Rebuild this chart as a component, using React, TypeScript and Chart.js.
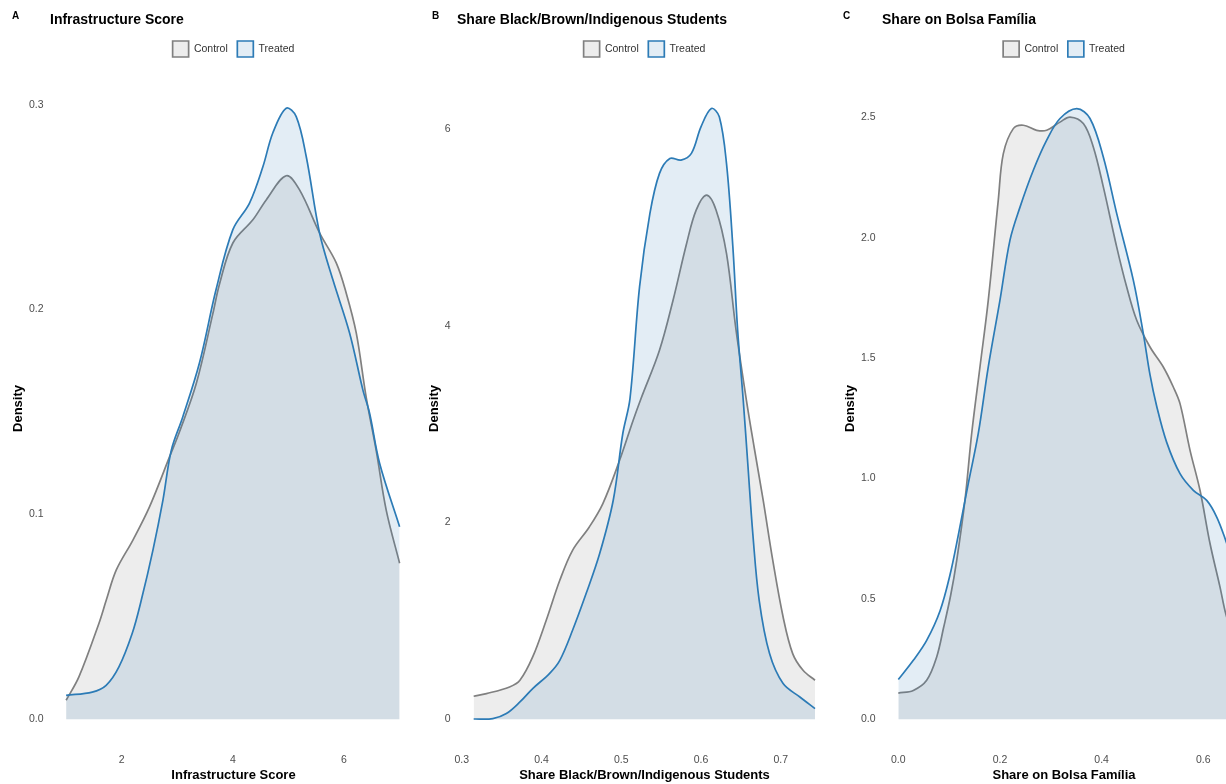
import React, { useEffect, useRef } from "react";
import { Chart, registerables } from "chart.js";

Chart.register(...registerables);

// ---------- Data ----------
const seriesNames = ["Control", "Treated"];

// Panel A: Infrastructure Score
const infraControlX = [1.0, 1.23, 1.59, 1.723, 1.903, 2.202, 2.502, 2.862, 3.042, 3.343, 3.64, 3.76, 4.0, 4.36, 4.6, 4.96, 5.2, 5.56, 5.86, 6.04, 6.22, 6.4, 6.58, 6.76, 7.0];
const infraControlY = [0.0093, 0.0207, 0.0468, 0.0582, 0.0729, 0.0875, 0.1038, 0.1282, 0.1405, 0.164, 0.198, 0.2125, 0.2325, 0.2438, 0.2535, 0.2653, 0.2584, 0.2374, 0.2228, 0.208, 0.1886, 0.157, 0.131, 0.102, 0.0762];
const infraTreatedX = [1.0, 1.47, 1.72, 1.95, 2.19, 2.353, 2.562, 2.742, 2.893, 3.1, 3.4, 3.7, 4.0, 4.3, 4.54, 4.72, 4.96, 5.14, 5.32, 5.56, 5.8, 6.1, 6.34, 6.46, 6.64, 7.0];
const infraTreatedY = [0.0117, 0.0133, 0.0166, 0.0256, 0.042, 0.0582, 0.0826, 0.107, 0.1314, 0.1477, 0.174, 0.21, 0.239, 0.252, 0.2697, 0.2863, 0.2983, 0.2942, 0.2747, 0.2374, 0.2145, 0.1886, 0.1607, 0.1494, 0.125, 0.094];
const infraXTicks = [2, 4, 6];
const infraXTickLabels = ["2", "4", "6"];
const infraYTicks = [0, 0.1, 0.2, 0.3];
const infraYTickLabels = ["0.0", "0.1", "0.2", "0.3"];

// Panel B: Share Black/Brown/Indigenous Students
const raceControlX = [0.315, 0.331, 0.36, 0.373, 0.389, 0.406, 0.423, 0.439, 0.46, 0.477, 0.498, 0.515, 0.525, 0.548, 0.565, 0.582, 0.594, 0.607, 0.619, 0.632, 0.644, 0.657, 0.667, 0.678, 0.69, 0.703, 0.715, 0.728, 0.743];
const raceControlY = [0.234, 0.261, 0.329, 0.397, 0.634, 1.007, 1.413, 1.718, 1.955, 2.193, 2.633, 3.04, 3.264, 3.752, 4.26, 4.837, 5.175, 5.328, 5.175, 4.735, 3.955, 3.243, 2.75, 2.227, 1.617, 1.04, 0.668, 0.498, 0.397];
const raceTreatedX = [0.315, 0.339, 0.356, 0.373, 0.389, 0.41, 0.423, 0.439, 0.456, 0.473, 0.49, 0.502, 0.511, 0.523, 0.536, 0.548, 0.561, 0.575, 0.588, 0.6, 0.613, 0.623, 0.632, 0.64, 0.646, 0.653, 0.659, 0.665, 0.673, 0.686, 0.703, 0.724, 0.743];
const raceTreatedY = [0.003, 0.007, 0.058, 0.176, 0.312, 0.465, 0.6, 0.905, 1.278, 1.685, 2.227, 2.905, 3.26, 4.395, 5.142, 5.549, 5.701, 5.684, 5.752, 6.022, 6.209, 6.124, 5.65, 4.802, 3.955, 3.243, 2.565, 1.888, 1.21, 0.668, 0.363, 0.227, 0.109];
const raceXTicks = [0.3, 0.4, 0.5, 0.6, 0.7];
const raceXTickLabels = ["0.3", "0.4", "0.5", "0.6", "0.7"];
const raceYTicks = [0, 2, 4, 6];
const raceYTickLabels = ["0", "2", "4", "6"];

// Panel C: Share on Bolsa Família
const bolsaControlX = [0.0, 0.0295, 0.0558, 0.0755, 0.089, 0.103, 0.1149, 0.1312, 0.1444, 0.1607, 0.177, 0.1967, 0.2066, 0.2262, 0.2459, 0.2723, 0.2919, 0.3181, 0.3378, 0.364, 0.3836, 0.4033, 0.4297, 0.4493, 0.469, 0.4952, 0.5213, 0.541, 0.5542, 0.5739, 0.5935, 0.6132, 0.6329, 0.6441, 0.66, 0.675];
const bolsaControlY = [0.109, 0.12, 0.162, 0.259, 0.38, 0.515, 0.66, 0.911, 1.188, 1.464, 1.741, 2.157, 2.349, 2.453, 2.467, 2.446, 2.446, 2.48, 2.501, 2.474, 2.377, 2.211, 1.961, 1.795, 1.657, 1.546, 1.463, 1.38, 1.311, 1.117, 0.951, 0.73, 0.549, 0.439, 0.33, 0.24];
const bolsaTreatedX = [0.0, 0.0295, 0.0558, 0.082, 0.1017, 0.118, 0.1377, 0.1574, 0.177, 0.2, 0.2197, 0.2394, 0.2656, 0.2919, 0.3181, 0.351, 0.3771, 0.4033, 0.4297, 0.4624, 0.482, 0.4952, 0.5083, 0.528, 0.5542, 0.5804, 0.6067, 0.6264, 0.6441, 0.66, 0.675];
const bolsaTreatedY = [0.165, 0.245, 0.328, 0.45, 0.6, 0.765, 0.98, 1.188, 1.464, 1.741, 1.99, 2.127, 2.28, 2.405, 2.495, 2.536, 2.495, 2.335, 2.1, 1.823, 1.602, 1.43, 1.3, 1.15, 1.02, 0.951, 0.909, 0.84, 0.743, 0.64, 0.55];
const bolsaXTicks = [0.0, 0.2, 0.4, 0.6];
const bolsaXTickLabels = ["0.0", "0.2", "0.4", "0.6"];
const bolsaYTicks = [0, 0.5, 1.0, 1.5, 2.0, 2.5];
const bolsaYTickLabels = ["0.0", "0.5", "1.0", "1.5", "2.0", "2.5"];

// ---------- Styling ----------
const FONT = "'Liberation Sans', Arial, Helvetica, sans-serif";
const CONTROL_LINE = "rgb(128,128,128)";
const CONTROL_FILL = "rgba(128,128,128,0.14)";
const TREATED_LINE = "rgb(44,123,182)";
const TREATED_FILL = "rgba(44,123,182,0.135)";
const CANVAS_H = 784;

type PanelSpec = {
  tag: string;
  title: string;
  xTitle: string;
  cx: number[]; cy: number[]; tx: number[]; ty: number[];
  xTicks: number[]; xLabels: string[]; yTicks: number[]; yLabels: string[];
  xMin: number; xMax: number; yMin: number; yMax: number;
  left: number; width: number; yAxisW: number; yTitlePad: number;
};

const panels: PanelSpec[] = [
  {
    tag: "A", title: "Infrastructure Score", xTitle: "Infrastructure Score",
    cx: infraControlX, cy: infraControlY, tx: infraTreatedX, ty: infraTreatedY,
    xTicks: infraXTicks, xLabels: infraXTickLabels, yTicks: infraYTicks, yLabels: infraYTickLabels,
    xMin: 0.71, xMax: 7.313, yMin: -0.01498, yMax: 0.3184,
    left: 0, width: 417, yAxisW: 50, yTitlePad: 10.5,
  },
  {
    tag: "B", title: "Share Black/Brown/Indigenous Students", xTitle: "Share Black/Brown/Indigenous Students",
    cx: raceControlX, cy: raceControlY, tx: raceTreatedX, ty: raceTreatedY,
    xTicks: raceXTicks, xLabels: raceXTickLabels, yTicks: raceYTicks, yLabels: raceYTickLabels,
    xMin: 0.2941, xMax: 0.7643, yMin: -0.312, yMax: 6.6305,
    left: 420, width: 412, yAxisW: 37, yTitlePad: 6.5,
  },
  {
    tag: "C", title: "Share on Bolsa Família", xTitle: "Share on Bolsa Família",
    cx: bolsaControlX, cy: bolsaControlY, tx: bolsaTreatedX, ty: bolsaTreatedY,
    xTicks: bolsaXTicks, xLabels: bolsaXTickLabels, yTicks: bolsaYTicks, yLabels: bolsaYTickLabels,
    xMin: -0.0321, xMax: 0.684, yMin: -0.1275, yMax: 2.7089,
    left: 831, width: 415, yAxisW: 51, yTitlePad: 11.2,
  },
];

const tagPlugin = {
  id: "panelTag",
  afterDraw(chart: any, _args: any, opts: any) {
    const ctx = chart.ctx;
    ctx.save();
    ctx.font = `bold 10px ${FONT}`;
    ctx.fillStyle = "#000";
    ctx.textBaseline = "middle";
    ctx.textAlign = "left";
    ctx.fillText(opts.text, 12, 16);
    ctx.restore();
  },
};

function toPoints(xs: number[], ys: number[]) {
  return xs.map((x, i) => ({ x, y: ys[i] }));
}

function Panel({ spec }: { spec: PanelSpec }) {
  const ref = useRef<HTMLCanvasElement | null>(null);
  useEffect(() => {
    if (!ref.current) return;
    const chart = new Chart(ref.current, {
      type: "line",
      data: {
        datasets: [
          {
            label: seriesNames[0],
            data: toPoints(spec.cx, spec.cy),
            borderColor: CONTROL_LINE,
            backgroundColor: CONTROL_FILL,
            borderWidth: 1.7,
            pointRadius: 0,
            fill: "origin",
            tension: 0.35,
            order: 1,
          },
          {
            label: seriesNames[1],
            data: toPoints(spec.tx, spec.ty),
            borderColor: TREATED_LINE,
            backgroundColor: TREATED_FILL,
            borderWidth: 1.7,
            pointRadius: 0,
            fill: "origin",
            tension: 0.35,
            order: 0,
          },
        ],
      },
      options: {
        responsive: false,
        animation: false,
        devicePixelRatio: 1,
        layout: { padding: 0 },
        font: { family: FONT },
        plugins: {
          panelTag: { text: spec.tag },
          tooltip: { enabled: false },
          title: {
            display: true,
            text: spec.title,
            align: "start",
            fullSize: false,
            color: "#000",
            font: { family: FONT, size: 14, weight: "bold" },
            padding: { top: 11.6, bottom: 3 },
          },
          legend: {
            display: true,
            position: "top",
            align: "center",
            fullSize: false,
            labels: {
              boxWidth: 16,
              boxHeight: 16,
              padding: 9.6,
              color: "#333",
              font: { family: FONT, size: 10.5 },
              sort: (a: any, b: any) => a.datasetIndex - b.datasetIndex,
            },
          },
        },
        scales: {
          x: {
            type: "linear",
            min: spec.xMin,
            max: spec.xMax,
            grid: { display: false, drawTicks: false },
            border: { display: false },
            afterBuildTicks: (s: any) => {
              s.ticks = spec.xTicks.map((v) => ({ value: v }));
            },
            afterFit: (s: any) => {
              s.height = 34;
            },
            ticks: {
              padding: 4,
              color: "#4d4d4d",
              font: { family: FONT, size: 10.5 },
              maxRotation: 0,
              autoSkip: false,
              callback: (_v: any, i: number) => spec.xLabels[i],
            },
            title: {
              display: true,
              text: spec.xTitle,
              color: "#000",
              font: { family: FONT, size: 13, weight: "bold" },
              padding: { top: 0, bottom: 0.5 },
            },
          },
          y: {
            type: "linear",
            min: spec.yMin,
            max: spec.yMax,
            grid: { display: false, drawTicks: false },
            border: { display: false },
            afterBuildTicks: (s: any) => {
              s.ticks = spec.yTicks.map((v) => ({ value: v }));
            },
            afterFit: (s: any) => {
              s.width = spec.yAxisW;
            },
            ticks: {
              padding: 6.5,
              color: "#4d4d4d",
              font: { family: FONT, size: 10.5 },
              autoSkip: false,
              callback: (_v: any, i: number) => spec.yLabels[i],
            },
            title: {
              display: true,
              text: "Density",
              color: "#000",
              font: { family: FONT, size: 13, weight: "bold" },
              padding: { top: spec.yTitlePad, bottom: 0 },
            },
          },
        },
      } as any,
      plugins: [tagPlugin as any],
    });
    return () => chart.destroy();
  }, [spec]);

  return (
    <div style={{ position: "absolute", left: spec.left, top: 0, width: spec.width, height: CANVAS_H }}>
      <canvas ref={ref} width={spec.width} height={CANVAS_H} style={{ width: spec.width, height: CANVAS_H, display: "block" }} />
    </div>
  );
}

export default function App() {
  return (
    <div
      style={{
        position: "absolute",
        left: 0,
        top: 0,
        width: 1226,
        height: 784,
        overflow: "hidden",
        background: "#fff",
      }}
    >
      {panels.map((p) => (
        <Panel key={p.tag} spec={p} />
      ))}
    </div>
  );
}
